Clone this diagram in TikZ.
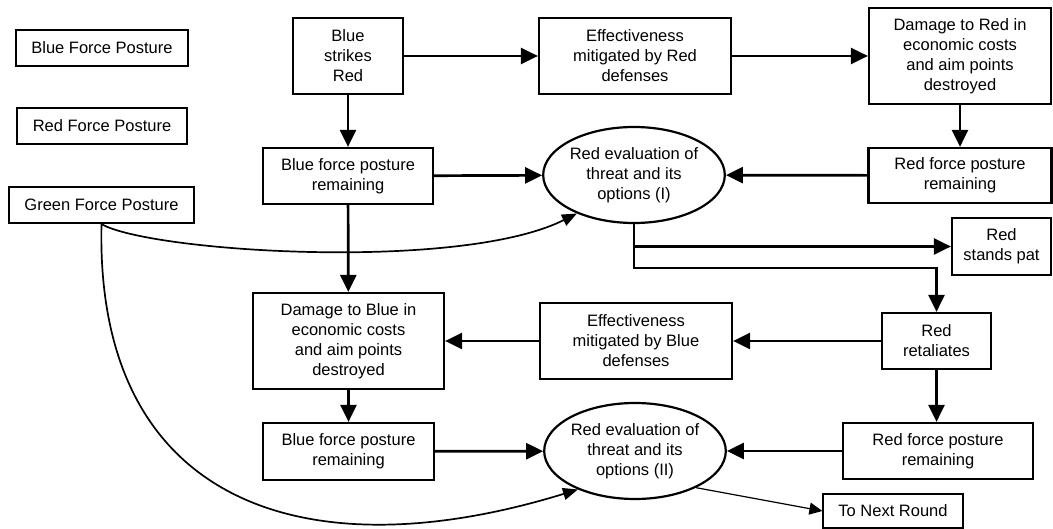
\documentclass[tikz,border=0pt]{standalone}
\usepackage{fontspec}
\setmainfont{Liberation Sans}
\usetikzlibrary{arrows.meta,shapes.geometric}

\tikzset{
  box/.style={draw, line width=2.2pt, align=center, inner sep=2pt},
  evalnode/.style={draw, ellipse, line width=2.2pt, align=center, inner sep=0pt},
  thinbox/.style={draw, line width=1.2pt, align=center, inner sep=2pt},
  flow/.style={line width=2.7pt, -{Triangle[length=17pt,width=16pt]}},
  curveflow/.style={line width=1.7pt, -{Triangle[length=15pt,width=12pt]}},
  thinflow/.style={line width=1.2pt, -{Triangle[length=13pt,width=12pt]}}
}

\begin{document}
\begin{tikzpicture}[x=1pt, y=-1pt, font=\fontsize{16.5}{20}\selectfont]
\useasboundingbox (0,0) rectangle (1053,529);

% posture legend
\node[box, minimum width=172pt, minimum height=36pt] (bfp) at (102,48) {Blue Force Posture};
\node[box, minimum width=170pt, minimum height=36pt] (rfp) at (102,126) {Red Force Posture};
\node[box, minimum width=185pt, minimum height=36pt] (gfp) at (101.5,205) {Green Force Posture};

% first exchange: Blue strikes
\node[box, minimum width=110pt, minimum height=76pt] (bsr) at (348,56) {Blue\\strikes\\Red};
\node[box, minimum width=192pt, minimum height=76pt] (effR) at (635,56) {Effectiveness\\mitigated by Red\\defenses};
\node[box, minimum width=182pt, minimum height=96pt] (dmgR) at (960,56) {Damage to Red in\\economic costs\\and aim points\\destroyed};
\node[box, minimum width=170pt, minimum height=56pt] (bfr1) at (348,176) {Blue force posture\\remaining};
\node[evalnode, minimum width=162pt, minimum height=96pt] (e1) at (634,175) {Red evaluation of\\threat and its\\options (I)};
\node[box, minimum width=183pt, minimum height=55pt] (rfr1) at (960,175.5) {Red force posture\\remaining};
\node[box, minimum width=99pt, minimum height=57pt] (pat) at (1001.5,246.5) {Red\\stands pat};

% second exchange: Red retaliates
\node[box, minimum width=191pt, minimum height=96pt] (dmgB) at (348.5,341) {Damage to Blue in\\economic costs\\and aim points\\destroyed};
\node[box, minimum width=192pt, minimum height=76pt] (effB) at (636,341) {Effectiveness\\mitigated by Blue\\defenses};
\node[box, minimum width=109pt, minimum height=56pt] (ret) at (936.5,341) {Red\\retaliates};
\node[box, minimum width=171pt, minimum height=57pt] (bfr2) at (348.5,451.5) {Blue force posture\\remaining};
\node[evalnode, minimum width=164pt, minimum height=96pt] (e2) at (635,451) {Red evaluation of\\threat and its\\options (II)};
\node[box, minimum width=190pt, minimum height=56pt] (rfr2) at (938,451) {Red force posture\\remaining};
\node[thinbox, minimum width=140pt, minimum height=34pt] (next) at (893,511) {To Next Round};

\coordinate (turn) at (936.5,268);

% connectors
\draw[flow] (bsr) -- (effR);
\draw[flow] (effR) -- (dmgR);
\draw[flow] (dmgR) -- (rfr1);
\draw[flow] (rfr1) -- (e1);
\draw[flow] (bsr) -- (bfr1);
\draw[flow] (bfr1) -- (e1);
\draw[flow] (bfr1) -- (dmgB);
\draw[flow] (dmgB) -- (bfr2);
\draw[flow] (bfr2) -- (e2);
\draw[flow] (e1.south) |- (pat.west);
\draw[flow] (e1.south) |- (turn) -- (ret.north);
\draw[flow] (ret) -- (effB);
\draw[flow] (effB) -- (dmgB);
\draw[flow] (ret.south) -- (ret.south |- rfr2.north);
\draw[flow] (rfr2) -- (e2);
\draw[thinflow] (e2.-31) -- (next.west);

% Green posture feeds both evaluations
\draw[curveflow] (gfp.south) .. controls (150,252) and (460,272) .. (e1.214);
\draw[curveflow] (gfp.south) .. controls (95,500) and (300,575) .. (e2.214);
\end{tikzpicture}
\end{document}
